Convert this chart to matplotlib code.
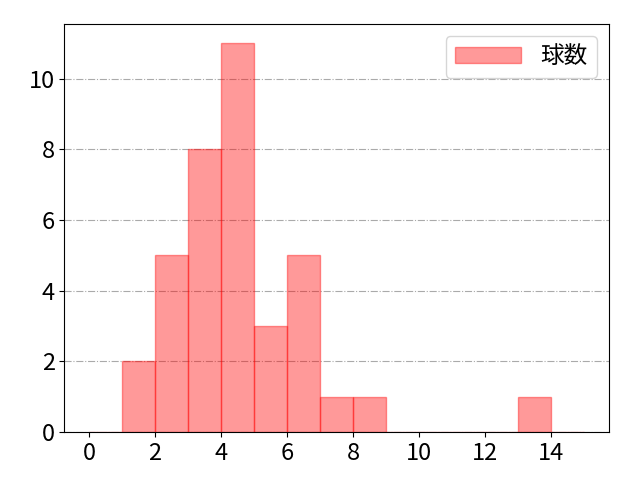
import matplotlib
matplotlib.use("Agg")
import matplotlib.pyplot as plt

plt.rcParams['font.family'] = ['Noto Sans CJK JP', 'DejaVu Sans']

bin_edges = list(range(0, 16))
bin_counts = [0, 2, 5, 8, 11, 3, 5, 1, 1, 0, 0, 0, 0, 1, 0]
label = "球数"

fig, ax = plt.subplots(figsize=(6.4, 4.8), dpi=100)
fig.subplots_adjust(left=0.1005, right=0.951, top=0.95, bottom=0.1)
ax.hist(bin_edges[:-1], bins=bin_edges, weights=bin_counts,
        color='red', alpha=0.4, edgecolor='red', linewidth=1, label=label)
ax.grid(axis='y', linestyle='-.', color='#aaaaaa', linewidth=0.8)
ax.set_axisbelow(True)
ax.set_xticks(range(0, 16, 2))
ax.tick_params(labelsize=17)
ax.legend(fontsize=17, loc='upper right', handlelength=2.8)
fig.savefig("out.png")
